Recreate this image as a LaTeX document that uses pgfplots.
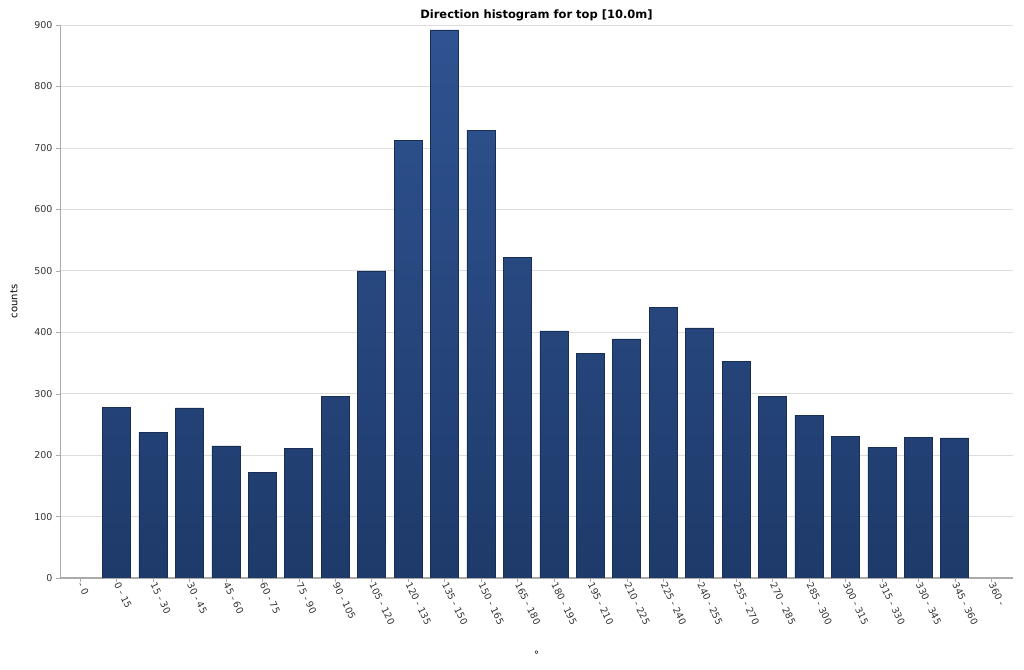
\documentclass[border=0pt]{standalone}
\usepackage{pgfplots}
\pgfplotsset{compat=1.18}
\usepackage{fontspec}
\setmainfont{DejaVu Sans}
\definecolor{bartop}{HTML}{2F5391}
\definecolor{barbot}{HTML}{1E3A6A}
\definecolor{gridc}{HTML}{DDDDDD}
\definecolor{axc}{HTML}{AAAAAA}
\begin{document}
\begin{tikzpicture}
\begin{axis}[
  name=ax,
  scale only axis,
  width=953pt, height=553pt,
  ymin=0, ymax=900,
  xmin=-0.55, xmax=25.6,
  ytick={0,100,...,900},
  ymajorgrids, grid style={gridc, line width=0.6pt},
  xtick={0,...,25},
  xticklabels={- 0,0 - 15,15 - 30,30 - 45,45 - 60,60 - 75,75 - 90,90 - 105,105 - 120,120 - 135,135 - 150,150 - 165,165 - 180,180 - 195,195 - 210,210 - 225,225 - 240,240 - 255,255 - 270,270 - 285,285 - 300,300 - 315,315 - 330,330 - 345,345 - 360,360 -},
  x tick label style={rotate=-64, anchor=west, font=\fontsize{9.5}{11}\selectfont, text=black!80, inner sep=1pt},
  y tick label style={font=\fontsize{9.5}{11}\selectfont, text=black!80},
  /pgf/number format/assume math mode=true,
  tick style={axc},
  tick align=outside,
  major tick length=4pt,
  axis x line*=bottom, axis y line*=left,
  axis line style={axc, line width=0.8pt},
  x axis line style={-, line width=1.5pt, axc},
  y axis line style={-},
  title={\bfseries Direction histogram for top [10.0m]},
  title style={font=\fontsize{11.5}{13}\selectfont, yshift=-6pt},
  ylabel={counts}, ylabel style={font=\fontsize{10}{12}\selectfont, yshift=10pt},
  xlabel={°}, xlabel style={font=\fontsize{10}{12}\selectfont, yshift=-20pt},
  ybar, bar width=28pt,
]
\addplot[draw=barbot!80!black, top color=bartop, bottom color=barbot, line width=0.5pt] coordinates {
(1,278) (2,237) (3,277) (4,215) (5,172) (6,211) (7,296) (8,500) (9,712) (10,892)
(11,729) (12,522) (13,402) (14,366) (15,389) (16,441) (17,407) (18,353) (19,296) (20,265)
(21,231) (22,213) (23,229) (24,228)
};
\end{axis}
\pgfresetboundingbox
\useasboundingbox ([xshift=-60pt,yshift=-92pt]ax.south west) rectangle ([xshift=11pt,yshift=25pt]ax.north east);
\end{tikzpicture}
\end{document}
